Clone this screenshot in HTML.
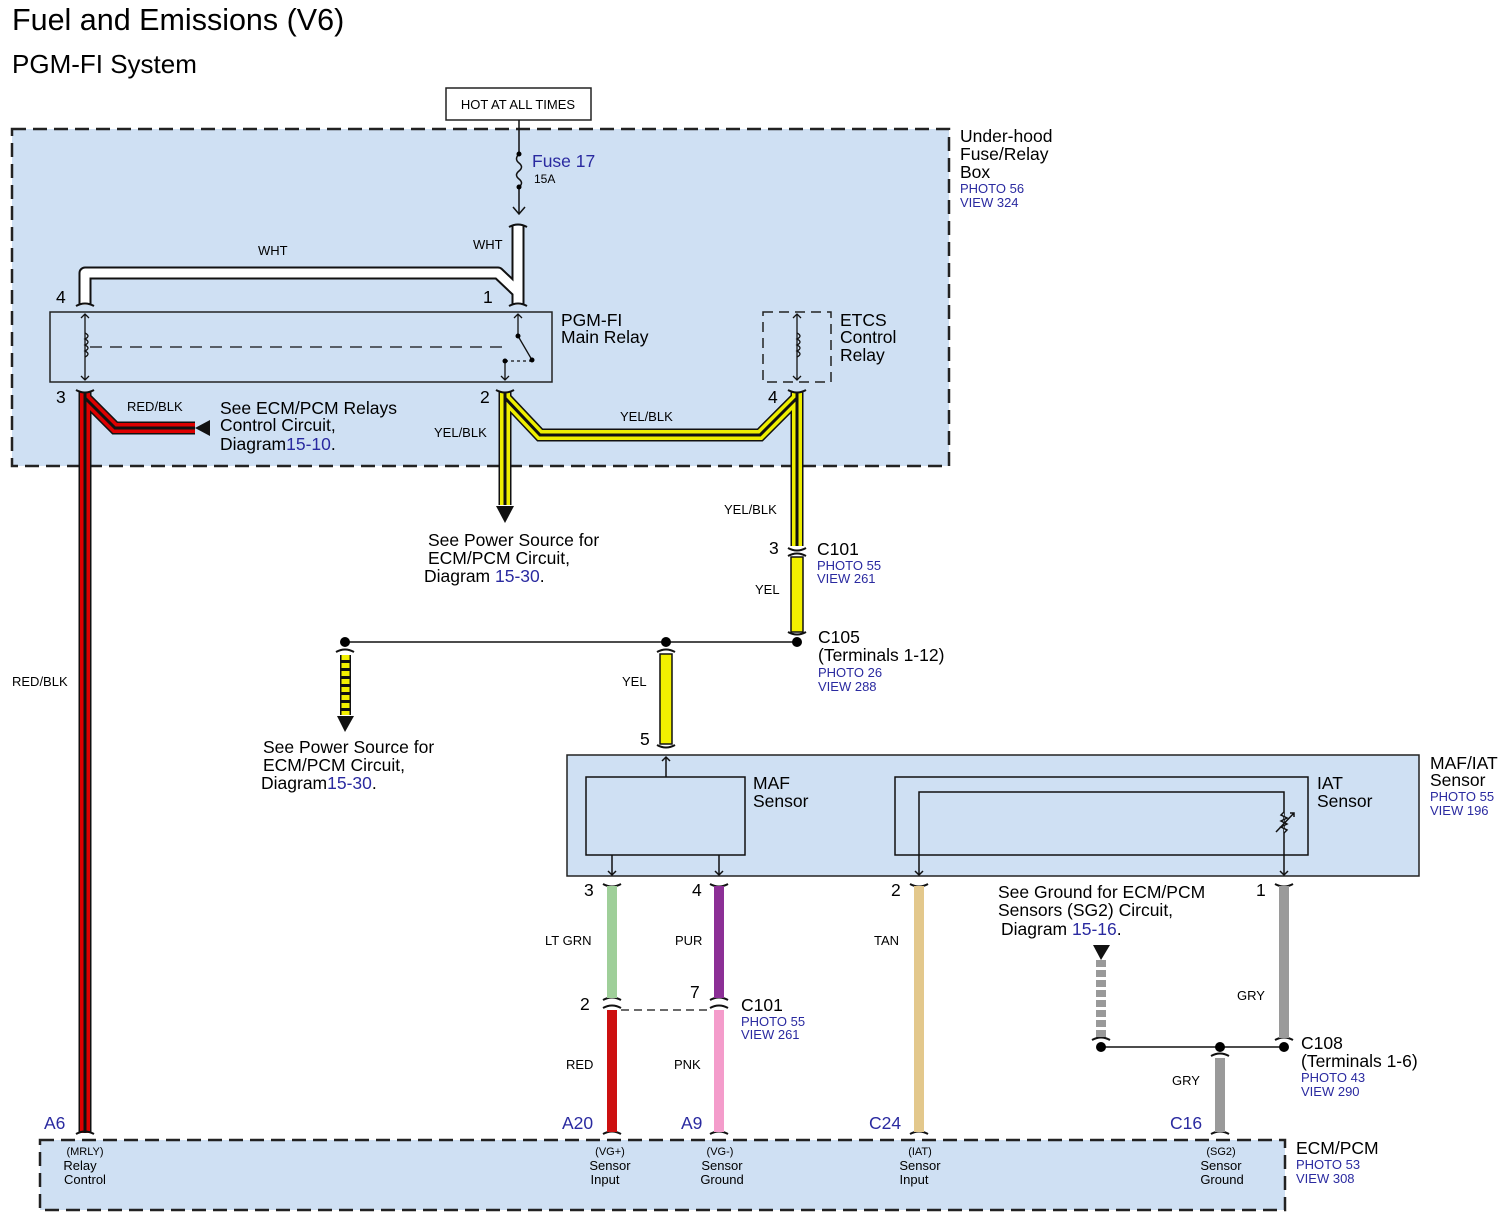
<!DOCTYPE html>
<html><head><meta charset="utf-8"><style>
html,body{margin:0;padding:0;background:#fff}
svg{display:block}
text{font-family:"Liberation Sans",Arial,sans-serif}
.b{fill:#2a2aa0}
</style></head><body>
<svg width="1511" height="1223" viewBox="0 0 1511 1223" xmlns="http://www.w3.org/2000/svg">
<text x="12" y="30" font-size="30.5">Fuel and Emissions (V6)</text>
<text x="12" y="73" font-size="26">PGM-FI System</text>

<rect x="12" y="129" width="937" height="337" fill="#cfe0f3" stroke="#222" stroke-width="2.5" stroke-dasharray="14,7"/>
<text x="960" y="142" font-size="17.5">Under-hood</text>
<text x="960" y="160" font-size="17.5">Fuse/Relay</text>
<text x="960" y="178" font-size="17.5">Box</text>
<text x="960" y="193" font-size="13" class="b">PHOTO 56</text>
<text x="960" y="207" font-size="13" class="b">VIEW 324</text>

<rect x="446" y="88" width="145" height="32" fill="#fff" stroke="#222" stroke-width="1.5"/>
<text x="518" y="109" font-size="13" text-anchor="middle">HOT AT ALL TIMES</text>

<line x1="519" y1="120" x2="519" y2="154" stroke="#111" stroke-width="1.5"/>
<path d="M519 154 q-5 5 0 9 q5 4 0 8 q-5 4 0 8 q5 4 0 8" fill="none" stroke="#111" stroke-width="1.5"/>
<line x1="519" y1="187" x2="519" y2="213" stroke="#111" stroke-width="1.5"/>
<circle cx="519" cy="154" r="2.5"/><circle cx="519" cy="187" r="2.5"/>
<path d="M513 207 l6 7 l6 -7" fill="none" stroke="#111" stroke-width="1.5"/>
<text x="532" y="167" font-size="17.5" class="b">Fuse 17</text>
<text x="534" y="183" font-size="12">15A</text>

<g fill="none" stroke-linejoin="round">
<path d="M518 226 V305 M518 292 L498 273 H85 V305" stroke="#111" stroke-width="13"/>
<path d="M518 226 V305 M518 292 L498 273 H85 V305" stroke="#fff" stroke-width="9"/>
</g>
<text x="473" y="249" font-size="13">WHT</text>
<text x="258" y="255" font-size="13">WHT</text>
<g stroke="#111" stroke-width="2" fill="none">
<path d="M509 227 q9 -5 18 0 M76 306 q9 -5 18 0 M509 306 q9 -5 18 0"/>
</g>
<text x="56" y="303" font-size="17.5">4</text>
<text x="483" y="303" font-size="17.5">1</text>

<rect x="50" y="312" width="502" height="70" fill="#cfe0f3" stroke="#222" stroke-width="1.5"/>
<g stroke="#111" stroke-width="1.3" fill="none">
<line x1="85" y1="314" x2="85" y2="380"/>
<path d="M81 318 l4 -4 l4 4 M81 376 l4 4 l4 -4"/>
<path d="M85 333 q6 3 0 6 q6 3 0 6 q6 3 0 6 q6 3 0 6"/>
<line x1="90" y1="347" x2="505" y2="347" stroke-dasharray="12,8"/>
<line x1="518" y1="314" x2="518" y2="336"/>
<path d="M514 318 l4 -4 l4 4"/>
<line x1="518" y1="336" x2="532" y2="360"/>
<line x1="505" y1="361" x2="505" y2="380"/>
<path d="M501 376 l4 4 l4 -4"/>
<line x1="505" y1="361" x2="532" y2="361" stroke-dasharray="3,3"/>
</g>
<circle cx="518" cy="336" r="2.5"/><circle cx="532" cy="360" r="2.5"/><circle cx="505" cy="361" r="2.5"/>
<text x="561" y="326" font-size="17.5">PGM-FI</text>
<text x="561" y="343" font-size="17.5">Main Relay</text>

<rect x="763" y="312" width="68" height="70" fill="none" stroke="#222" stroke-width="1.5" stroke-dasharray="10,6"/>
<g stroke="#111" stroke-width="1.3" fill="none">
<line x1="797" y1="314" x2="797" y2="380"/>
<path d="M793 318 l4 -4 l4 4 M793 376 l4 4 l4 -4"/>
<path d="M797 333 q6 3 0 6 q6 3 0 6 q6 3 0 6 q6 3 0 6"/>
</g>
<text x="840" y="326" font-size="17.5">ETCS</text>
<text x="840" y="343" font-size="17.5">Control</text>
<text x="840" y="361" font-size="17.5">Relay</text>

<g fill="none">
<path d="M85 392 V1133 M85 398 L115 428 H195" stroke="#111" stroke-width="13"/>
<path d="M85 392 V1133 M85 398 L115 428 H195" stroke="#d00" stroke-width="10"/>
<path d="M85 392 V1133 M85 398 L115 428 H195" stroke="#111" stroke-width="3"/>
</g>
<polygon points="195,428 210,420 210,436" fill="#111"/>
<text x="127" y="411" font-size="13">RED/BLK</text>
<text x="220" y="414" font-size="17.5">See ECM/PCM Relays</text>
<text x="220" y="431" font-size="17.5">Control Circuit,</text>
<text x="220" y="450" font-size="17.5">Diagram<tspan class="b">15-10</tspan>.</text>
<text x="12" y="686" font-size="13">RED/BLK</text>
<text x="56" y="403" font-size="17.5">3</text>
<text x="480" y="403" font-size="17.5">2</text>
<text x="768" y="403" font-size="17.5">4</text>

<g fill="none">
<path d="M505 392 V505 M505 398 L540 435 H760 L797 398 M797 392 V546" stroke="#111" stroke-width="13"/>
<path d="M505 392 V505 M505 398 L540 435 H760 L797 398 M797 392 V546" stroke="#ee0" stroke-width="10"/>
<path d="M505 392 V505 M505 398 L540 435 H760 L797 398 M797 392 V546" stroke="#111" stroke-width="3"/>
</g>
<polygon points="496,506 514,506 505,523" fill="#111"/>
<g stroke="#111" stroke-width="2" fill="none">
<path d="M76 390 q9 5 18 0 M496 390 q9 5 18 0 M788 390 q9 5 18 0"/>
<path d="M788 548 q9 5 18 0 M788 556 q9 -5 18 0"/>
</g>
<text x="434" y="437" font-size="13">YEL/BLK</text>
<text x="620" y="421" font-size="13">YEL/BLK</text>
<text x="724" y="514" font-size="13">YEL/BLK</text>
<text x="428" y="546" font-size="17.5">See Power Source for</text>
<text x="428" y="564" font-size="17.5">ECM/PCM Circuit,</text>
<text x="424" y="582" font-size="17.5">Diagram <tspan class="b">15-30</tspan>.</text>

<text x="769" y="554" font-size="17.5">3</text>
<text x="817" y="555" font-size="17.5">C101</text>
<text x="817" y="570" font-size="13" class="b">PHOTO 55</text>
<text x="817" y="583" font-size="13" class="b">VIEW 261</text>

<rect x="791" y="557" width="12" height="75" fill="#f2f000" stroke="#111" stroke-width="1.5"/>
<text x="755" y="594" font-size="13">YEL</text>
<line x1="345" y1="642" x2="797" y2="642" stroke="#111" stroke-width="1.5"/>
<circle cx="797" cy="642" r="5"/><circle cx="345" cy="642" r="5"/><circle cx="666" cy="642" r="5"/>
<g stroke="#111" stroke-width="2" fill="none"><path d="M788 632 q9 5 18 0 M657 652 q9 -5 18 0 M336 652 q9 -5 18 0"/></g>
<text x="818" y="643" font-size="17.5">C105</text>
<text x="818" y="661" font-size="17.5">(Terminals 1-12)</text>
<text x="818" y="677" font-size="13" class="b">PHOTO 26</text>
<text x="818" y="691" font-size="13" class="b">VIEW 288</text>

<rect x="340" y="655" width="11" height="60" fill="#111"/>
<line x1="345.5" y1="655" x2="345.5" y2="715" stroke="#f2f000" stroke-width="8" stroke-dasharray="5,3"/>
<polygon points="337,716 354,716 345,732" fill="#111"/>
<text x="263" y="753" font-size="17.5">See Power Source for</text>
<text x="263" y="771" font-size="17.5">ECM/PCM Circuit,</text>
<text x="261" y="789" font-size="17.5">Diagram<tspan class="b">15-30</tspan>.</text>

<rect x="660" y="654" width="12" height="90" fill="#f2f000" stroke="#111" stroke-width="1.5"/>
<text x="622" y="686" font-size="13">YEL</text>
<text x="640" y="745" font-size="17.5">5</text>
<path d="M657 745 q9 5 18 0" stroke="#111" stroke-width="2" fill="none"/>

<rect x="567" y="755" width="852" height="121" fill="#cfe0f3" stroke="#222" stroke-width="1.5"/>
<text x="1430" y="769" font-size="17.5">MAF/IAT</text>
<text x="1430" y="786" font-size="17.5">Sensor</text>
<text x="1430" y="801" font-size="13" class="b">PHOTO 55</text>
<text x="1430" y="815" font-size="13" class="b">VIEW 196</text>
<g stroke="#111" stroke-width="1.5" fill="none">
<rect x="586" y="777" width="159" height="78"/>
<rect x="895" y="777" width="413" height="78"/>
<line x1="666" y1="757" x2="666" y2="777"/><path d="M662 761 l4 -4 l4 4"/>
<line x1="612" y1="855" x2="612" y2="875"/><path d="M608 871 l4 4 l4 -4"/>
<line x1="719" y1="855" x2="719" y2="875"/><path d="M715 871 l4 4 l4 -4"/>
<path d="M919 875 V792 H1284 V875"/><path d="M915 871 l4 4 l4 -4 M1280 871 l4 4 l4 -4"/>
<path d="M1284 812 l-3 3 l6 3 l-6 3 l6 3 l-6 3 l6 3 l-3 3" fill="#cfe0f3"/>
<path d="M1276 832 L1294 813 M1290 813 h4 v4"/>
</g>
<text x="753" y="789" font-size="17.5">MAF</text>
<text x="753" y="807" font-size="17.5">Sensor</text>
<text x="1317" y="789" font-size="17.5">IAT</text>
<text x="1317" y="807" font-size="17.5">Sensor</text>

<g stroke="#111" stroke-width="2" fill="none">
<path d="M603 884 q9 5 18 0 M710 884 q9 5 18 0 M910 884 q9 5 18 0 M1275 884 q9 5 18 0"/>
<path d="M603 1000 q9 -5 18 0 M603 1008 q9 -5 18 0 M710 1000 q9 -5 18 0 M710 1008 q9 -5 18 0"/>
<path d="M1275 1040 q9 -5 18 0 M1092 1040 q9 -5 18 0 M1211 1056 q9 -5 18 0"/>
<path d="M603 1134 q9 -5 18 0 M710 1134 q9 -5 18 0 M910 1134 q9 -5 18 0 M1211 1134 q9 -5 18 0 M76 1134 q9 -5 18 0"/>
</g>
<rect x="607" y="886" width="10" height="112" fill="#9fcf99"/>
<rect x="607" y="1010" width="10" height="122" fill="#cc1010"/>
<rect x="714" y="886" width="10" height="112" fill="#8c2f96"/>
<rect x="714" y="1010" width="10" height="122" fill="#f49ccb"/>
<rect x="914" y="886" width="10" height="246" fill="#e3c88c"/>
<rect x="1279" y="886" width="10" height="152" fill="#9a9a9a"/>
<rect x="1215" y="1058" width="10" height="74" fill="#9a9a9a"/>
<line x1="1101" y1="960" x2="1101" y2="1038" stroke="#999" stroke-width="10" stroke-dasharray="7,3"/>
<polygon points="1093,945 1110,945 1101,960" fill="#111"/>
<line x1="621" y1="1010" x2="710" y2="1010" stroke="#111" stroke-width="1.3" stroke-dasharray="8,5"/>
<line x1="1101" y1="1047" x2="1284" y2="1047" stroke="#111" stroke-width="1.5"/>
<circle cx="1101" cy="1047" r="5"/><circle cx="1220" cy="1047" r="5"/><circle cx="1284" cy="1047" r="5"/>

<text x="584" y="896" font-size="17.5">3</text>
<text x="692" y="896" font-size="17.5">4</text>
<text x="891" y="896" font-size="17.5">2</text>
<text x="1256" y="896" font-size="17.5">1</text>
<text x="545" y="945" font-size="13">LT GRN</text>
<text x="675" y="945" font-size="13">PUR</text>
<text x="874" y="945" font-size="13">TAN</text>
<text x="1237" y="1000" font-size="13">GRY</text>
<text x="1172" y="1085" font-size="13">GRY</text>
<text x="566" y="1069" font-size="13">RED</text>
<text x="674" y="1069" font-size="13">PNK</text>
<text x="580" y="1010" font-size="17.5">2</text>
<text x="690" y="998" font-size="17.5">7</text>
<text x="741" y="1011" font-size="17.5">C101</text>
<text x="741" y="1026" font-size="13" class="b">PHOTO 55</text>
<text x="741" y="1039" font-size="13" class="b">VIEW 261</text>
<text x="998" y="898" font-size="17.5">See Ground for ECM/PCM</text>
<text x="998" y="916" font-size="17.5">Sensors (SG2) Circuit,</text>
<text x="1001" y="935" font-size="17.5">Diagram <tspan class="b">15-16</tspan>.</text>
<text x="1301" y="1049" font-size="17.5">C108</text>
<text x="1301" y="1067" font-size="17.5">(Terminals 1-6)</text>
<text x="1301" y="1082" font-size="13" class="b">PHOTO 43</text>
<text x="1301" y="1096" font-size="13" class="b">VIEW 290</text>

<text x="44" y="1129" font-size="17.5" class="b">A6</text>
<text x="562" y="1129" font-size="17.5" class="b">A20</text>
<text x="681" y="1129" font-size="17.5" class="b">A9</text>
<text x="869" y="1129" font-size="17.5" class="b">C24</text>
<text x="1170" y="1129" font-size="17.5" class="b">C16</text>

<rect x="40" y="1140" width="1245" height="70" fill="#cfe0f3" stroke="#222" stroke-width="2.5" stroke-dasharray="14,7"/>
<text x="1296" y="1154" font-size="17.5">ECM/PCM</text>
<text x="1296" y="1169" font-size="13" class="b">PHOTO 53</text>
<text x="1296" y="1183" font-size="13" class="b">VIEW 308</text>
<g font-size="13" text-anchor="middle">
<text x="85" y="1155" font-size="11">(MRLY)</text><text x="80" y="1170">Relay</text><text x="85" y="1184">Control</text>
<text x="610" y="1155" font-size="11">(VG+)</text><text x="610" y="1170">Sensor</text><text x="605" y="1184">Input</text>
<text x="720" y="1155" font-size="11">(VG-)</text><text x="722" y="1170">Sensor</text><text x="722" y="1184">Ground</text>
<text x="920" y="1155" font-size="11">(IAT)</text><text x="920" y="1170">Sensor</text><text x="914" y="1184">Input</text>
<text x="1221" y="1155" font-size="11">(SG2)</text><text x="1221" y="1170">Sensor</text><text x="1222" y="1184">Ground</text>
</g>
</svg>
</body></html>
